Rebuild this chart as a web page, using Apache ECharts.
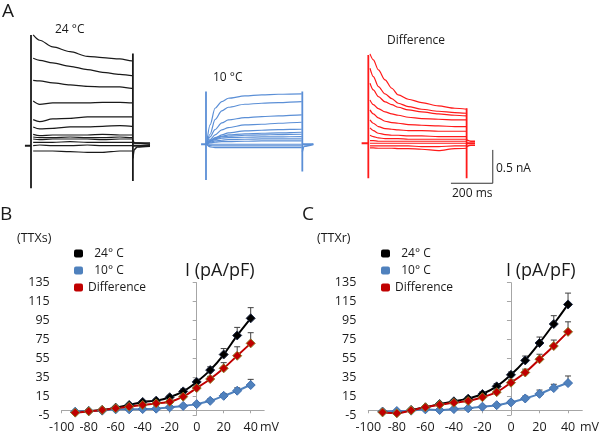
<!DOCTYPE html>
<html>
<head>
<meta charset="utf-8">
<script src="https://cdn.jsdelivr.net/npm/echarts@6/dist/echarts.min.js"></script>
<style>html,body{margin:0;padding:0;background:#fff}#chart{width:600px;height:433px}</style>
</head>
<body>
<div id="chart"></div>
<script>
// ---------- panel A : current traces, time in ms, current in nA ----------
const PULSE_END = 470;

const BLACK_T = [10, 40, 100, 180, 260, 330, 410, 465];
const BLACK_I = [
  [1.66, 1.58, 1.48, 1.41, 1.34, 1.32, 1.30, 1.27],
  [1.31, 1.28, 1.24, 1.19, 1.14, 1.10, 1.07, 1.05],
  [0.98, 0.97, 0.94, 0.91, 0.89, 0.88, 0.88, 0.86],
  [0.67, 0.62, 0.64, 0.64, 0.64, 0.65, 0.65, 0.64],
  [0.39, 0.36, 0.40, 0.41, 0.43, 0.43, 0.43, 0.43],
  [0.28, 0.25, 0.26, 0.28, 0.28, 0.29, 0.30, 0.29],
  [0.17, 0.15, 0.16, 0.16, 0.16, 0.17, 0.16, 0.16],
  [0.13, 0.12, 0.12, 0.13, 0.12, 0.12, 0.13, 0.12],
  [0.10, 0.09, 0.10, 0.10, 0.10, 0.09, 0.10, 0.10],
  [0.05, 0.05, 0.05, 0.06, 0.05, 0.05, 0.05, 0.05],
  [0.00, 0.01, 0.00, 0.00, 0.01, 0.00, 0.00, 0.00],
  [-0.08, -0.08, -0.08, -0.09, -0.10, -0.10, -0.08, -0.08]
];
const BLACK_SPIKES = [[[0, -0.64], [0, 1.66]], [[PULSE_END, 1.38], [PULSE_END, -0.53]]];
const BLACK_TAILS = [
  [[PULSE_END, 0.08], [478, 0.04], [549, 0.02]],
  [[PULSE_END, -0.19], [476, -0.06], [490, -0.02], [549, -0.01]],
  [[PULSE_END, 0.04], [549, 0.04]]
];
const BLACK_BASE = [[-28, 0], [0, 0]];
const BLACK_POST = [[PULSE_END, 0], [549, 0]];

const BLUE_T = [3, 20, 44, 77, 109, 190, 272, 353, 467];
const BLUE_I = [
  [0, 0.29, 0.54, 0.64, 0.69, 0.725, 0.74, 0.75, 0.755],
  [0, 0.15, 0.37, 0.50, 0.555, 0.60, 0.615, 0.625, 0.64],
  [0, 0.11, 0.22, 0.32, 0.365, 0.40, 0.415, 0.425, 0.44],
  [0, 0.07, 0.14, 0.215, 0.25, 0.29, 0.30, 0.315, 0.33],
  [0, 0.05, 0.09, 0.14, 0.17, 0.20, 0.21, 0.218, 0.225],
  [0, 0.05, 0.10, 0.12, 0.14, 0.155, 0.165, 0.17, 0.18],
  [0, 0.05, 0.08, 0.11, 0.12, 0.135, 0.14, 0.145, 0.15],
  [0, 0.04, 0.07, 0.09, 0.10, 0.105, 0.11, 0.11, 0.115],
  [0, 0.03, 0.05, 0.06, 0.07, 0.075, 0.08, 0.08, 0.08],
  [0, 0.02, 0.03, 0.04, 0.04, 0.045, 0.05, 0.05, 0.05],
  [0, 0.00, 0.00, 0.00, 0.00, 0.00, 0.00, 0.00, 0.00],
  [0, -0.02, -0.025, -0.025, -0.025, -0.025, -0.025, -0.025, -0.025],
  [0, -0.04, -0.05, -0.05, -0.05, -0.05, -0.05, -0.05, -0.05]
];
const BLUE_SPIKES = [[[0, -0.535], [0, 0.79]], [[PULSE_END, 0.79], [PULSE_END, -0.41]]];
const BLUE_TAILS = [[[PULSE_END, -0.11], [480, -0.03], [524, 0]]];
const BLUE_BASE = [[-24, 0], [0, 0]];
const BLUE_POST = [[PULSE_END, 0], [524, 0]];

const RED_T = [8, 24, 48, 80, 112, 143, 191, 255, 335, 414, 470];
const RED_I = [
  [1.34, 1.25, 1.10, 0.95, 0.825, 0.725, 0.66, 0.61, 0.56, 0.525, 0.51],
  [1.125, 1.00, 0.85, 0.74, 0.67, 0.60, 0.55, 0.51, 0.48, 0.46, 0.45],
  [0.90, 0.80, 0.70, 0.62, 0.58, 0.54, 0.50, 0.47, 0.44, 0.42, 0.41],
  [0.65, 0.58, 0.52, 0.47, 0.44, 0.42, 0.39, 0.37, 0.36, 0.35, 0.35],
  [0.50, 0.44, 0.38, 0.33, 0.31, 0.30, 0.28, 0.27, 0.26, 0.25, 0.25],
  [0.35, 0.30, 0.25, 0.22, 0.21, 0.20, 0.19, 0.19, 0.18, 0.18, 0.18],
  [0.23, 0.19, 0.15, 0.13, 0.12, 0.12, 0.11, 0.11, 0.10, 0.10, 0.10],
  [0.12, 0.10, 0.08, 0.07, 0.07, 0.07, 0.06, 0.06, 0.06, 0.06, 0.06],
  [0.04, 0.04, 0.03, 0.03, 0.03, 0.03, 0.03, 0.03, 0.03, 0.03, 0.03],
  [0.00, 0.00, 0.00, 0.00, 0.00, 0.00, 0.00, 0.00, 0.00, 0.00, 0.00],
  [-0.04, -0.04, -0.04, -0.04, -0.04, -0.04, -0.04, -0.05, -0.05, -0.04, -0.04],
  [-0.07, -0.07, -0.075, -0.075, -0.075, -0.08, -0.08, -0.09, -0.11, -0.08, -0.075]
];
const RED_SPIKES = [[[0, -0.525], [0, 1.325]], [[PULSE_END, 0.525], [PULSE_END, -0.525]]];
const RED_TAILS = [
  [[PULSE_END, 0.05], [490, 0.03], [510, 0.03]],
  [[PULSE_END, -0.05], [490, -0.03], [510, -0.03]]
];
const RED_BASE = [[-32, 0], [0, 0]];
const RED_POST = [[PULSE_END, 0], [510, 0]];

// scale bar: 200 ms, 0.5 nA
const SCALE_BAR = [[395, -0.6], [595, -0.6], [595, -0.1]];

// ---------- panels B and C : I-V curves ----------
const MV = [-90, -80, -70, -60, -50, -40, -30, -20, -10, 0, 10, 20, 30, 40];
const X_TICKS = [-100, -80, -60, -40, -20, 0, 20, 40];
const Y_TICKS = [-5, 15, 35, 55, 75, 95, 115, 135];
const NAMES = ['  24\u00b0 C', '  10\u00b0 C', 'Difference'];

const B_BLACK = [-2.2, -0.8, 0.3, 2.8, 5.6, 8.8, 10.2, 13.8, 20.0, 30.0, 42.5, 59.0, 79.2, 97.3];
const B_BLUE = [-1.5, -0.8, -0.4, 1.0, 1.0, 1.3, 1.7, 3.1, 4.6, 6.5, 10.0, 15.3, 20.7, 26.7];
const B_RED = [-2.5, -1.1, 0.3, 2.1, 3.8, 5.6, 7.3, 9.0, 14.4, 23.5, 33.1, 44.4, 57.7, 70.8];
const B_BLACK_ERR = [0.5, 0.5, 0.6, 0.8, 1, 1.2, 1.5, 2, 2.5, 2.8, 3.5, 6.3, 8.5, 11.3];
const B_BLUE_ERR = [0.3, 0.3, 0.3, 0.4, 0.5, 0.6, 0.8, 1, 1.2, 1.5, 2, 2.5, 3, 6];
const B_RED_ERR = [0.5, 0.5, 0.6, 0.8, 1, 1.2, 1.5, 2, 2, 2.5, 2.8, 6, 9.5, 11.3];

const C_BLACK = [-1.5, -2.5, 0.3, 3.1, 6.6, 9.5, 12.3, 17.2, 25.3, 37.5, 52.8, 71.2, 91.3, 112];
const C_BLUE = [-1.5, -0.8, -0.4, 1.0, 0.3, 1.3, 2.1, 3.8, 5.4, 8.4, 12.5, 17.4, 23.5, 28.8];
const C_RED = [-2.2, -3.2, -0.1, 3.1, 5.9, 8.0, 9.8, 13.8, 19.2, 29.2, 40.0, 54.0, 68.0, 83.0];
const C_BLACK_ERR = [0.5, 0.6, 0.7, 0.8, 1, 1.5, 2, 2.5, 3, 3, 4.6, 6.3, 8.8, 12];
const C_BLUE_ERR = [0.3, 0.3, 0.4, 0.5, 0.6, 0.7, 0.8, 1, 1.5, 2, 2.5, 4, 4, 7.5];
const C_RED_ERR = [0.5, 0.5, 0.7, 0.8, 1, 1.2, 1.5, 2, 2.5, 3, 3.5, 5.3, 6.3, 10.6];

const FONT = "'Open Sans', 'Noto Sans', sans-serif";
const TXT = '#1a1a1a';
const C_BLACK_COL = '#000000', C_BLUE_COL = '#4f81bd', C_RED_COL = '#c00000';

// ---------- helpers ----------
function lineSeries(data, gi, color, width, smooth) {
  return {
    type: 'line', xAxisIndex: gi, yAxisIndex: gi, data: data,
    symbol: 'none', smooth: smooth || false, smoothMonotone: 'x',
    lineStyle: { color: color, width: width }, silent: true, z: 2
  };
}

function traceGroup(times, currents, spikes, tails, base, post, gi, color) {
  const out = [];
  currents.forEach(function (vals) {
    const pts = times.map(function (t, i) { return [t, vals[i]]; });
    if (times[times.length - 1] < PULSE_END) pts.push([PULSE_END, vals[vals.length - 1]]);
    out.push(lineSeries(pts, gi, color, 1.2, 0.3));
  });
  spikes.forEach(function (s) { out.push(lineSeries(s, gi, color, 1.8)); });
  tails.forEach(function (s) { out.push(lineSeries(s, gi, color, 1.5, 0.3)); });
  out.push(lineSeries(base, gi, color, 2));
  out.push(lineSeries(post, gi, color, 2));
  return out;
}

function ivSeries(name, values, xi, yi, color, border) {
  return {
    type: 'line', name: name, xAxisIndex: xi, yAxisIndex: yi,
    data: MV.map(function (v, i) { return [v, values[i]]; }),
    smooth: 0.3, symbol: 'diamond', symbolSize: 9, showSymbol: true,
    lineStyle: { color: color, width: 2 },
    itemStyle: { color: color, borderColor: border, borderWidth: 1 },
    z: 4
  };
}

function errSeries(values, errs, xi, yi) {
  return {
    type: 'custom', xAxisIndex: xi, yAxisIndex: yi, silent: true, z: 3,
    data: MV.map(function (v, i) { return [v, values[i], errs[i]]; }),
    encode: { x: 0, y: 1 },
    renderItem: function (params, api) {
      const x = api.value(0), y = api.value(1), e = api.value(2);
      const p0 = api.coord([x, y]);
      const p1 = api.coord([x, y + e]);
      const st = { stroke: '#404040', lineWidth: 1 };
      return {
        type: 'group', children: [
          { type: 'line', shape: { x1: p0[0], y1: p0[1], x2: p1[0], y2: p1[1] }, style: st },
          { type: 'line', shape: { x1: p1[0] - 3, y1: p1[1], x2: p1[0] + 3, y2: p1[1] }, style: st }
        ]
      };
    }
  };
}

function hiddenX(gi, min, max) { return { type: 'value', gridIndex: gi, min: min, max: max, show: false }; }
function hiddenY(gi, min, max) { return { type: 'value', gridIndex: gi, min: min, max: max, show: false }; }

// x labels stay at the grid bottom (-5) while the line sits on y = 0
function ivX(gi) {
  return {
    type: 'value', gridIndex: gi, min: -100, max: 50,
    axisLine: { onZero: true, lineStyle: { color: '#a6a6a6', width: 1 } },
    axisTick: { show: true, customValues: X_TICKS, length: 3, lineStyle: { color: '#a6a6a6' } },
    axisLabel: { customValues: X_TICKS, margin: 6, fontSize: 12.5, fontFamily: FONT, color: TXT },
    splitLine: { show: false }
  };
}
function ivYLine(gi) {
  return {
    type: 'value', gridIndex: gi, min: -5, max: 135, position: 'left',
    axisLine: { show: true, onZero: true, lineStyle: { color: '#a6a6a6', width: 1 } },
    axisTick: { show: true, customValues: Y_TICKS, length: 4, lineStyle: { color: '#a6a6a6' } },
    axisLabel: { show: false },
    splitLine: { show: false }
  };
}
function ivYLabels(gi) {
  return {
    type: 'value', gridIndex: gi, min: -5, max: 135, position: 'left',
    axisLine: { show: false, onZero: false },
    axisTick: { show: false },
    axisLabel: { customValues: Y_TICKS, margin: 12, fontSize: 12.5, fontFamily: FONT, color: TXT },
    splitLine: { show: false }
  };
}

function txt(text, x, y, size, align) {
  return {
    type: 'text', x: x, y: y, silent: true,
    style: { text: text, fill: TXT, font: size + 'px ' + FONT, align: align || 'left', verticalAlign: 'middle' }
  };
}

function legend(left) {
  return {
    orient: 'vertical', left: left, top: 247, itemGap: 4, padding: 0,
    icon: 'roundRect', itemWidth: 9, itemHeight: 8,
    itemStyle: { borderWidth: 0 },
    data: NAMES, selectedMode: false,
    textStyle: { fontSize: 12, fontFamily: FONT, color: TXT, lineHeight: 13 }
  };
}

const chart = echarts.init(document.getElementById('chart'), null, { renderer: 'canvas' });

const series = []
  .concat(traceGroup(BLACK_T, BLACK_I, BLACK_SPIKES, BLACK_TAILS, BLACK_BASE, BLACK_POST, 0, '#1a1a1a'))
  .concat(traceGroup(BLUE_T, BLUE_I, BLUE_SPIKES, BLUE_TAILS, BLUE_BASE, BLUE_POST, 1, '#5b8fd6'))
  .concat(traceGroup(RED_T, RED_I, RED_SPIKES, RED_TAILS, RED_BASE, RED_POST, 2, '#ff1a1a'))
  .concat([lineSeries(SCALE_BAR, 2, '#333333', 1)])
  // panel B
  .concat([
    errSeries(B_BLACK, B_BLACK_ERR, 3, 3),
    errSeries(B_BLUE, B_BLUE_ERR, 3, 3),
    errSeries(B_RED, B_RED_ERR, 3, 3),
    ivSeries(NAMES[0], B_BLACK, 3, 3, C_BLACK_COL, '#1f2a44'),
    ivSeries(NAMES[1], B_BLUE, 3, 3, C_BLUE_COL, '#3f6fb0'),
    ivSeries(NAMES[2], B_RED, 3, 3, C_RED_COL, '#8c7d2a')
  ])
  // panel C
  .concat([
    errSeries(C_BLACK, C_BLACK_ERR, 4, 5),
    errSeries(C_BLUE, C_BLUE_ERR, 4, 5),
    errSeries(C_RED, C_RED_ERR, 4, 5),
    ivSeries(NAMES[0], C_BLACK, 4, 5, C_BLACK_COL, '#1f2a44'),
    ivSeries(NAMES[1], C_BLUE, 4, 5, C_BLUE_COL, '#3f6fb0'),
    ivSeries(NAMES[2], C_RED, 4, 5, C_RED_COL, '#8c7d2a')
  ]);

const option = {
  animation: false,
  backgroundColor: '#ffffff',
  grid: [
    { left: 24.5, top: 25.6, width: 127.9, height: 173.4, outerBoundsMode: 'none' },
    { left: 199.85, top: 24.2, width: 120.9, height: 173.4, outerBoundsMode: 'none' },
    { left: 361.0, top: 23.2, width: 137.0, height: 173.4, outerBoundsMode: 'none' },
    { left: 61.7, top: 282.7, width: 202.5, height: 132.3, outerBoundsMode: 'none' },
    { left: 368.3, top: 282.7, width: 214, height: 132.3, outerBoundsMode: 'none' }
  ],
  xAxis: [
    hiddenX(0, -30, 560),
    hiddenX(1, -30, 560),
    hiddenX(2, -35, 620),
    ivX(3),
    ivX(4)
  ],
  yAxis: [
    hiddenY(0, -0.8, 1.8),
    hiddenY(1, -0.8, 1.8),
    hiddenY(2, -0.8, 1.8),
    ivYLine(3),
    ivYLabels(3),
    ivYLine(4),
    ivYLabels(4)
  ],
  legend: [legend(74), legend(381)],
  graphic: [
    txt('A', 2, 12, 19),
    txt('24 \u00b0C', 55, 30, 12),
    txt('10 \u00b0C', 213, 78, 12),
    txt('Difference', 387, 41, 12),
    txt('0.5 nA', 496, 169, 12),
    txt('200 ms', 452, 194, 12),
    txt('B', 0, 215, 19),
    txt('(TTXs)', 17, 238, 12.5),
    txt('I (pA/pF)', 185, 271, 18),
    txt('mV', 260, 427, 12.5),
    txt('C', 302, 215, 19),
    txt('(TTXr)', 317, 238, 12.5),
    txt('I (pA/pF)', 506, 271, 18),
    txt('mV', 580, 427, 12.5)
  ],
  series: series
};

chart.setOption(option);
</script>
</body>
</html>
